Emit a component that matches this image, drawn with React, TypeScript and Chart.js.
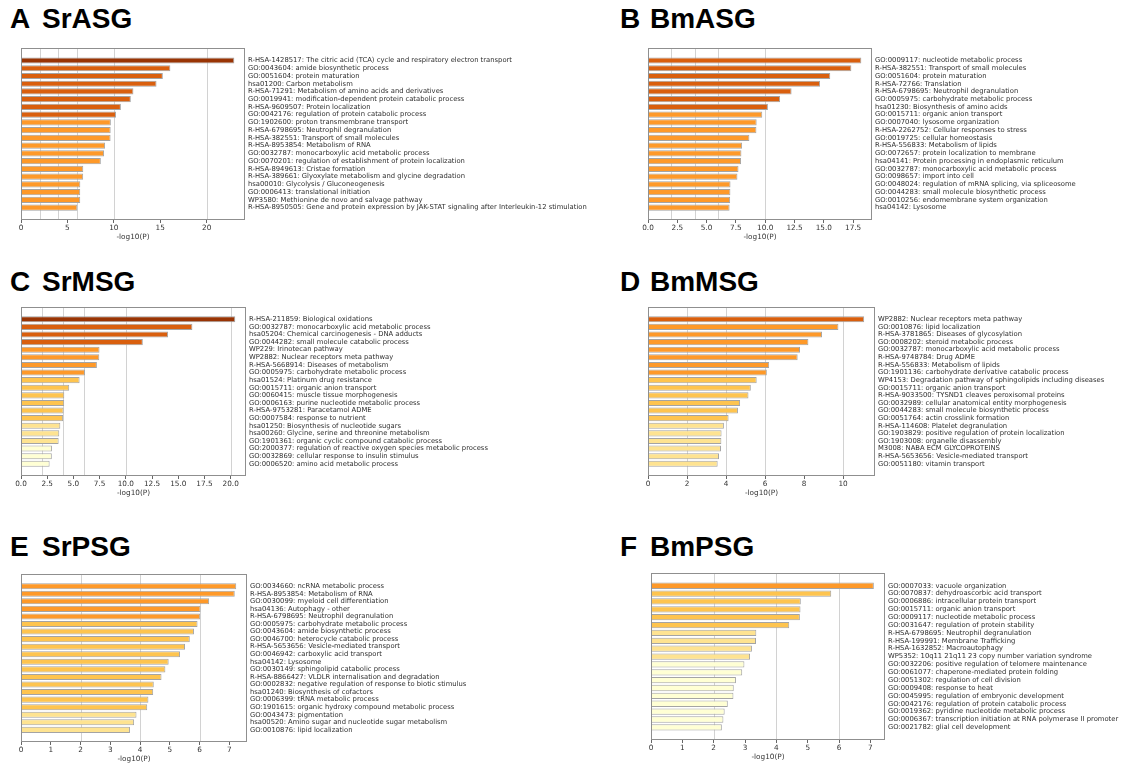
import React, { useEffect, useRef } from "react";
import { Chart, registerables } from "chart.js";
Chart.register(...registerables);

const labelsA = [
  "R-HSA-1428517: The citric acid (TCA) cycle and respiratory electron transport",
  "GO:0043604: amide biosynthetic process",
  "GO:0051604: protein maturation",
  "hsa01200: Carbon metabolism",
  "R-HSA-71291: Metabolism of amino acids and derivatives",
  "GO:0019941: modification-dependent protein catabolic process",
  "R-HSA-9609507: Protein localization",
  "GO:0042176: regulation of protein catabolic process",
  "GO:1902600: proton transmembrane transport",
  "R-HSA-6798695: Neutrophil degranulation",
  "R-HSA-382551: Transport of small molecules",
  "R-HSA-8953854: Metabolism of RNA",
  "GO:0032787: monocarboxylic acid metabolic process",
  "GO:0070201: regulation of establishment of protein localization",
  "R-HSA-8949613: Cristae formation",
  "R-HSA-389661: Glyoxylate metabolism and glycine degradation",
  "hsa00010: Glycolysis / Gluconeogenesis",
  "GO:0006413: translational initiation",
  "WP3580: Methionine de novo and salvage pathway",
  "R-HSA-8950505: Gene and protein expression by JAK-STAT signaling after Interleukin-12 stimulation",
];
const valuesA = [22.98, 16.09, 15.28, 14.6, 12.11, 11.83, 10.76, 10.23, 9.68, 9.66, 9.65, 9.06, 8.95, 8.6, 6.71, 6.7, 6.39, 6.38, 6.38, 6.07];
const ticksA = [0, 5, 10, 15, 20];

const labelsB = [
  "GO:0009117: nucleotide metabolic process",
  "R-HSA-382551: Transport of small molecules",
  "GO:0051604: protein maturation",
  "R-HSA-72766: Translation",
  "R-HSA-6798695: Neutrophil degranulation",
  "GO:0005975: carbohydrate metabolic process",
  "hsa01230: Biosynthesis of amino acids",
  "GO:0015711: organic anion transport",
  "GO:0007040: lysosome organization",
  "R-HSA-2262752: Cellular responses to stress",
  "GO:0019725: cellular homeostasis",
  "R-HSA-556833: Metabolism of lipids",
  "GO:0072657: protein localization to membrane",
  "hsa04141: Protein processing in endoplasmic reticulum",
  "GO:0032787: monocarboxylic acid metabolic process",
  "GO:0098657: import into cell",
  "GO:0048024: regulation of mRNA splicing, via spliceosome",
  "GO:0044283: small molecule biosynthetic process",
  "GO:0010256: endomembrane system organization",
  "hsa04142: Lysosome",
];
const valuesB = [18.2, 17.35, 15.55, 14.68, 12.25, 11.27, 10.23, 9.75, 9.27, 9.25, 8.65, 8.03, 7.97, 7.94, 7.72, 7.63, 7.04, 7.03, 7.01, 6.96];
const ticksB = [0, 2.5, 5, 7.5, 10, 12.5, 15, 17.5];

const labelsC = [
  "R-HSA-211859: Biological oxidations",
  "GO:0032787: monocarboxylic acid metabolic process",
  "hsa05204: Chemical carcinogenesis - DNA adducts",
  "GO:0044282: small molecule catabolic process",
  "WP229: Irinotecan pathway",
  "WP2882: Nuclear receptors meta pathway",
  "R-HSA-5668914: Diseases of metabolism",
  "GO:0005975: carbohydrate metabolic process",
  "hsa01524: Platinum drug resistance",
  "GO:0015711: organic anion transport",
  "GO:0060415: muscle tissue morphogenesis",
  "GO:0006163: purine nucleotide metabolic process",
  "R-HSA-9753281: Paracetamol ADME",
  "GO:0007584: response to nutrient",
  "hsa01250: Biosynthesis of nucleotide sugars",
  "hsa00260: Glycine, serine and threonine metabolism",
  "GO:1901361: organic cyclic compound catabolic process",
  "GO:2000377: regulation of reactive oxygen species metabolic process",
  "GO:0032869: cellular response to insulin stimulus",
  "GO:0006520: amino acid metabolic process",
];
const valuesC = [20.44, 16.35, 14.03, 11.62, 7.49, 7.47, 7.24, 6.1, 5.59, 4.6, 4.13, 4.12, 4.06, 4.02, 3.75, 3.65, 3.59, 2.95, 2.94, 2.73];
const ticksC = [0, 2.5, 5, 7.5, 10, 12.5, 15, 17.5, 20];

const labelsD = [
  "WP2882: Nuclear receptors meta pathway",
  "GO:0010876: lipid localization",
  "R-HSA-3781865: Diseases of glycosylation",
  "GO:0008202: steroid metabolic process",
  "GO:0032787: monocarboxylic acid metabolic process",
  "R-HSA-9748784: Drug ADME",
  "R-HSA-556833: Metabolism of lipids",
  "GO:1901136: carbohydrate derivative catabolic process",
  "WP4153: Degradation pathway of sphingolipids including diseases",
  "GO:0015711: organic anion transport",
  "R-HSA-9033500: TYSND1 cleaves peroxisomal proteins",
  "GO:0032989: cellular anatomical entity morphogenesis",
  "GO:0044283: small molecule biosynthetic process",
  "GO:0051764: actin crosslink formation",
  "R-HSA-114608: Platelet degranulation",
  "GO:1903829: positive regulation of protein localization",
  "GO:1903008: organelle disassembly",
  "M3008: NABA ECM GLYCOPROTEINS",
  "R-HSA-5653656: Vesicle-mediated transport",
  "GO:0051180: vitamin transport",
];
const valuesD = [11.08, 9.76, 8.92, 8.22, 7.79, 7.67, 6.21, 6.09, 5.57, 5.27, 5.15, 4.72, 4.61, 4.13, 3.89, 3.77, 3.76, 3.74, 3.64, 3.57];
const ticksD = [0, 2, 4, 6, 8, 10];

const labelsE = [
  "GO:0034660: ncRNA metabolic process",
  "R-HSA-8953854: Metabolism of RNA",
  "GO:0030099: myeloid cell differentiation",
  "hsa04136: Autophagy - other",
  "R-HSA-6798695: Neutrophil degranulation",
  "GO:0005975: carbohydrate metabolic process",
  "GO:0043604: amide biosynthetic process",
  "GO:0046700: heterocycle catabolic process",
  "R-HSA-5653656: Vesicle-mediated transport",
  "GO:0046942: carboxylic acid transport",
  "hsa04142: Lysosome",
  "GO:0030149: sphingolipid catabolic process",
  "R-HSA-8866427: VLDLR internalisation and degradation",
  "GO:0002832: negative regulation of response to biotic stimulus",
  "hsa01240: Biosynthesis of cofactors",
  "GO:0006399: tRNA metabolic process",
  "GO:1901615: organic hydroxy compound metabolic process",
  "GO:0043473: pigmentation",
  "hsa00520: Amino sugar and nucleotide sugar metabolism",
  "GO:0010876: lipid localization",
];
const valuesE = [7.23, 7.18, 6.32, 6.03, 6.02, 5.93, 5.81, 5.67, 5.51, 5.34, 4.96, 4.85, 4.72, 4.46, 4.44, 4.28, 4.24, 3.88, 3.8, 3.66];
const ticksE = [0, 1, 2, 3, 4, 5, 6, 7];

const labelsF = [
  "GO:0007033: vacuole organization",
  "GO:0070837: dehydroascorbic acid transport",
  "GO:0006886: intracellular protein transport",
  "GO:0015711: organic anion transport",
  "GO:0009117: nucleotide metabolic process",
  "GO:0031647: regulation of protein stability",
  "R-HSA-6798695: Neutrophil degranulation",
  "R-HSA-199991: Membrane Trafficking",
  "R-HSA-1632852: Macroautophagy",
  "WP5352: 10q11 21q11 23 copy number variation syndrome",
  "GO:0032206: positive regulation of telomere maintenance",
  "GO:0061077: chaperone-mediated protein folding",
  "GO:0051302: regulation of cell division",
  "GO:0009408: response to heat",
  "GO:0045995: regulation of embryonic development",
  "GO:0042176: regulation of protein catabolic process",
  "GO:0019362: pyridine nucleotide metabolic process",
  "GO:0006367: transcription initiation at RNA polymerase II promoter",
  "GO:0021782: glial cell development",
];
const valuesF = [7.11, 5.75, 4.78, 4.77, 4.75, 4.41, 3.36, 3.35, 3.22, 3.16, 2.98, 2.91, 2.71, 2.64, 2.63, 2.45, 2.35, 2.31, 2.26];
const ticksF = [0, 1, 2, 3, 4, 5, 6, 7];

const thresholds = [2, 4, 6, 10, 20];

function binColor(v: number): string {
  if (v >= 20) return "#993404";
  if (v >= 10) return "#d95f0e";
  if (v >= 6) return "#fe9929";
  if (v >= 4) return "#fec44f";
  if (v >= 3) return "#fee391";
  return "#ffffd4";
}

const framePlugin = {
  id: "frameAndThresholds",
  beforeDatasetsDraw(chart: any) {
    const { ctx, chartArea, scales } = chart;
    const x = scales.x;
    ctx.save();
    ctx.strokeStyle = "#d2d2d2";
    ctx.lineWidth = 1;
    thresholds.forEach((t) => {
      if (t < x.max) {
        const px = Math.round(x.getPixelForValue(t)) + 0.5;
        ctx.beginPath();
        ctx.moveTo(px, chartArea.top);
        ctx.lineTo(px, chartArea.bottom);
        ctx.stroke();
      }
    });
    ctx.restore();
  },
  afterDraw(chart: any) {
    const { ctx, chartArea } = chart;
    ctx.save();
    ctx.strokeStyle = "#8f8f8f";
    ctx.lineWidth = 1;
    const l = Math.round(chartArea.left) + 0.5;
    const t = Math.round(chartArea.top) + 0.5;
    const r = Math.round(chartArea.right) - 0.5;
    const b = Math.round(chartArea.bottom) - 0.5;
    ctx.strokeRect(l, t, r - l, b - t);
    ctx.restore();
  },
};

type Box = { L: number; R: number; T: number; B: number };

function Panel(props: { box: Box; labels: string[]; values: number[]; ticks: number[]; decimals: boolean; labelWidth: number }) {
  const { box, labels, values, ticks, decimals, labelWidth } = props;
  const ref = useRef<HTMLCanvasElement | null>(null);
  const padL = 8, padT = 5, xH = 23;
  const W = padL + (box.R - box.L) + labelWidth;
  const H = padT + (box.B - box.T) + xH;
  useEffect(() => {
    const n = labels.length;
    const font = { family: "DejaVu Sans", size: 7.3 };
    const chart = new Chart(ref.current as HTMLCanvasElement, {
      type: "bar",
      data: {
        datasets: [
          {
            data: values.map((v, i) => ({ x: v, y: i })),
            backgroundColor: values.map(binColor),
            borderColor: "#a4a4a4",
            borderWidth: 1,
            barPercentage: 1,
            categoryPercentage: 0.8,
          } as any,
        ],
      },
      options: {
        animation: false,
        responsive: false,
        indexAxis: "y",
        layout: { padding: { left: padL, top: padT, right: 0, bottom: 0 } },
        plugins: { legend: { display: false }, tooltip: { enabled: false } },
        scales: {
          x: {
            type: "linear",
            position: "bottom",
            min: 0,
            max: Math.max(...values) * 1.05,
            afterBuildTicks: (s: any) => {
              s.ticks = ticks.map((v) => ({ value: v }));
            },
            ticks: {
              callback: (v: any) => (decimals ? Number(v).toFixed(1) : String(v)),
              font,
              color: "#333",
              padding: 1,
              maxRotation: 0,
              autoSkip: false,
            },
            grid: { display: true, drawOnChartArea: false, drawTicks: true, tickLength: 3, color: "#666" },
            border: { display: false },
            title: { display: true, text: "-log10(P)", font, color: "#333", padding: { top: 0, bottom: 1.5 } },
            afterFit: (s: any) => {
              s.height = xH;
            },
          },
          y: {
            type: "linear",
            position: "right",
            reverse: true,
            min: -1.05,
            max: n - 1 + 1.05,
            afterBuildTicks: (s: any) => {
              s.ticks = labels.map((_, i) => ({ value: i }));
            },
            ticks: {
              callback: (v: any) => labels[v] ?? "",
              autoSkip: false,
              font: { family: "DejaVu Sans", size: 6.8 },
              color: "#2e2e2e",
              padding: 3,
            },
            grid: { display: false, drawTicks: false },
            border: { display: false },
            afterFit: (s: any) => {
              s.width = labelWidth;
            },
          },
        },
      } as any,
      plugins: [framePlugin],
    });
    return () => chart.destroy();
  }, []);
  return (
    <canvas
      ref={ref}
      width={W}
      height={H}
      style={{ position: "absolute", left: box.L - padL, top: box.T - padT, width: W, height: H }}
    />
  );
}

function Title(props: { x: number; cy: number; letter: string; name: string; nameX: number }) {
  const style: any = {
    position: "absolute",
    fontFamily: "'Liberation Sans', Arial, sans-serif",
    fontWeight: "bold",
    fontSize: 28,
    lineHeight: "28px",
    color: "#000",
    whiteSpace: "nowrap",
    top: props.cy - 13.6,
  };
  return (
    <>
      <div style={{ ...style, left: props.x }}>{props.letter}</div>
      <div style={{ ...style, left: props.nameX }}>{props.name}</div>
    </>
  );
}

export default function App() {
  return (
    <div style={{ position: "absolute", left: 0, top: 0, width: 1127, height: 765, background: "#fff", overflow: "hidden" }}>
      <Title x={10} cy={19} letter="A" name="SrASG" nameX={42} />
      <Title x={620} cy={19} letter="B" name="BmASG" nameX={650} />
      <Title x={10} cy={282} letter="C" name="SrMSG" nameX={42} />
      <Title x={620} cy={282} letter="D" name="BmMSG" nameX={650} />
      <Title x={10} cy={547} letter="E" name="SrPSG" nameX={42} />
      <Title x={620} cy={547} letter="F" name="BmPSG" nameX={650} />
      <Panel box={{ L: 21, R: 245, T: 46, B: 220 }} labels={labelsA} values={valuesA} ticks={ticksA} decimals={false} labelWidth={375} />
      <Panel box={{ L: 648, R: 872, T: 46, B: 220 }} labels={labelsB} values={valuesB} ticks={ticksB} decimals={true} labelWidth={255} />
      <Panel box={{ L: 21, R: 246, T: 305, B: 476 }} labels={labelsC} values={valuesC} ticks={ticksC} decimals={true} labelWidth={374} />
      <Panel box={{ L: 648, R: 875, T: 305, B: 476 }} labels={labelsD} values={valuesD} ticks={ticksD} decimals={false} labelWidth={252} />
      <Panel box={{ L: 21, R: 247, T: 572, B: 742 }} labels={labelsE} values={valuesE} ticks={ticksE} decimals={false} labelWidth={373} />
      <Panel box={{ L: 651, R: 885, T: 571, B: 740 }} labels={labelsF} values={valuesF} ticks={ticksF} decimals={false} labelWidth={242} />
    </div>
  );
}
